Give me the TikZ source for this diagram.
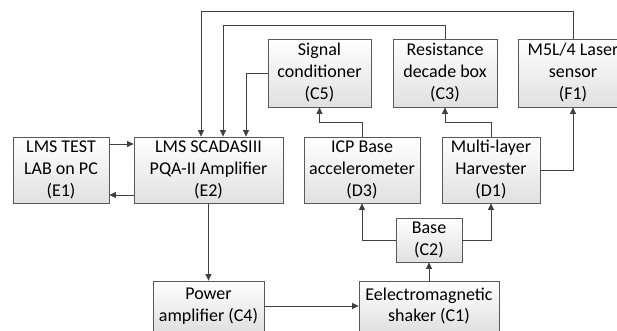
\documentclass[tikz,border=0pt]{standalone}
\usepackage{fontspec}
\setmainfont{Carlito}
\usetikzlibrary{arrows.meta,calc}

\begin{document}
\begin{tikzpicture}[
  x=1pt, y=1pt,
  font=\fontsize{18}{22}\selectfont,
  bx/.style={draw=black!65, line width=0.8pt, top color=white, bottom color=black!12,
             align=center, inner sep=1pt},
  ar/.style={-{Triangle[length=6.5pt,width=6pt]}, line width=0.8pt, draw=black!75}
]
\useasboundingbox (0,0) rectangle (617,331);

\node[bx, minimum width=96pt,  minimum height=66pt] (e1) at (61,161)    {LMS TEST\\LAB on PC\\(E1)};
\node[bx, minimum width=149pt, minimum height=66pt] (e2) at (208.5,161) {LMS SCADASIII\\PQA-II Amplifier\\(E2)};
\node[bx, minimum width=103pt, minimum height=68pt] (c5) at (319.5,258) {Signal\\conditioner\\(C5)};
\node[bx, minimum width=104pt, minimum height=68pt] (c3) at (445,258)   {Resistance\\decade box\\(C3)};
\node[bx, minimum width=110pt, minimum height=68pt] (f1) at (573,258)   {M5L/4 Laser\\sensor\\(F1)};
\node[bx, minimum width=116pt, minimum height=66pt] (d3) at (362,161)   {ICP Base\\accelerometer\\(D3)};
\node[bx, minimum width=98pt,  minimum height=66pt] (d1) at (491,161)   {Multi-layer\\Harvester\\(D1)};
\node[bx, minimum width=66pt,  minimum height=44pt] (c2) at (429,91)    {Base\\(C2)};
\node[bx, minimum width=140pt, minimum height=50pt] (c1) at (429,25)    {Eelectromagnetic\\shaker (C1)};
\node[bx, minimum width=111pt, minimum height=50pt] (c4) at (208.5,25)  {Power\\amplifier (C4)};

% measurement chain
\draw[ar] ([yshift=26pt]e1.east) -- ([yshift=26pt]e1.east -| e2.west);
\draw[ar] ([yshift=-25pt]e2.west) -- ([yshift=-25pt]e2.west -| e1.east);
\draw[ar] (e2.south) -- (c4.north);
\draw[ar] (c4.east) -- (c1.west);
\draw[ar] (c1.north) -- (c2.south);
\draw[ar] (c2.west) -| (d3.south);
\draw[ar] (c2.east) -| (d1.south);
\draw[ar] (d3.north) -- ++(0,14) -| (c5.south);
\draw[ar] (d1.north) -- ++(0,14) -| (c3.south);
\draw[ar] (d1.east) -| (f1.south);

% back to the analyser
\draw[ar] (f1.north) -- ++(0,27) -| ([xshift=-7.5pt]e2.north);
\draw[ar] (c3.north) -- ++(0,13) -| ([xshift=14.5pt]e2.north);
\draw[ar] (c5.west) -| ([xshift=37.5pt]e2.north);
\end{tikzpicture}
\end{document}
